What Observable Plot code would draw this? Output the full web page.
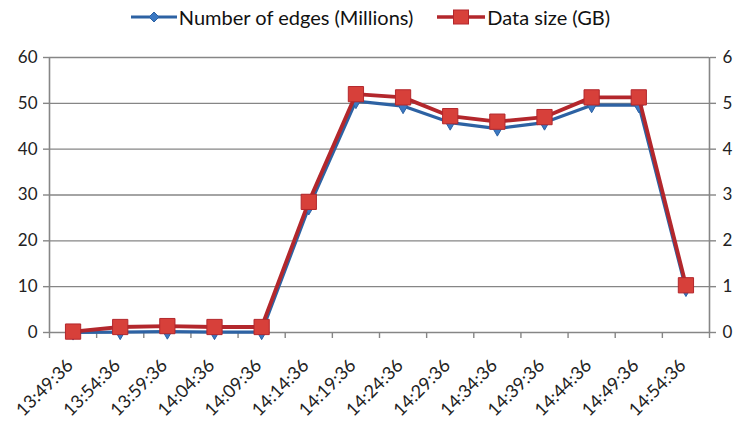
<!DOCTYPE html>
<html>
<head>
<meta charset="utf-8">
<script src="https://cdn.jsdelivr.net/npm/d3@7"></script>
<script src="https://cdn.jsdelivr.net/npm/@observablehq/plot@0.6"></script>
<style>
  html, body { margin: 0; padding: 0; background: #fff; }
  body { width: 739px; height: 430px; overflow: hidden; font-family: Lato, "Open Sans", sans-serif; }
  #legend { height: 34px; display: flex; justify-content: center; align-items: center; gap: 24px; font-size: 20px; color: #111; padding-left: 2px; box-sizing: border-box; }
  #legend .item { display: flex; align-items: center; gap: 2px; }
</style>
</head>
<body>
<div id="legend"></div>
<div id="chart"></div>
<script>
const times = ["13:49:36","13:54:36","13:59:36","14:04:36","14:09:36","14:14:36","14:19:36","14:24:36","14:29:36","14:34:36","14:39:36","14:44:36","14:49:36","14:54:36"];
const edgesMillions = [0, 0.1, 0.2, 0.1, 0.1, 27.3, 50.5, 49.4, 45.8, 44.5, 45.8, 49.6, 49.6, 9.5];
const dataSizeGB = [0.02, 0.12, 0.14, 0.12, 0.12, 2.85, 5.2, 5.13, 4.72, 4.6, 4.7, 5.13, 5.13, 1.03];
const leftTicks = [0, 10, 20, 30, 40, 50, 60];
const rightTicks = [0, 1, 2, 3, 4, 5, 6];
const seriesNames = ["Number of edges (Millions)", "Data size (GB)"];

const blueLine = "#2d62a3", blueFill = "#3b78c2";
const redLine = "#b3272c", redFill = "#d7403a";
const gridColor = "#868686";

const rows = times.map((t, i) => ({i, t, edges: edgesMillions[i], size: dataSizeGB[i]}));
const between = d3.range(times.length + 1).map(k => k - 0.5);

// legend
const legend = document.getElementById("legend");
legend.innerHTML = `
  <div class="item"><svg width="46" height="14"><line x1="0" y1="7" x2="46" y2="7" stroke="${blueLine}" stroke-width="3"/><path d="M23 2 L28 7 L23 12 L18 7 Z" fill="${blueFill}" stroke="${blueLine}"/></svg><span>${seriesNames[0]}</span></div>
  <div class="item"><svg width="48" height="18"><line x1="0" y1="9" x2="48" y2="9" stroke="${redLine}" stroke-width="3.5"/><rect x="16.5" y="2" width="15" height="14" fill="${redFill}" stroke="${redLine}"/></svg><span>${seriesNames[1]}</span></div>`;

const chart = Plot.plot({
  width: 739,
  height: 396,
  marginLeft: 49,
  marginRight: 30,
  marginTop: 23,
  marginBottom: 98,
  style: {fontFamily: "Lato, 'Open Sans', sans-serif", fontSize: "17px", color: "#222", background: "#fff"},
  x: {type: "linear", domain: [-0.5, times.length - 0.5]},
  y: {domain: [0, 60]},
  marks: [
    Plot.ruleY(leftTicks, {stroke: gridColor, strokeWidth: 1.4}),
    Plot.ruleX([-0.5, times.length - 0.5], {stroke: gridColor, strokeWidth: 1.6}),
    Plot.axisY({anchor: "left", ticks: leftTicks, tickSize: 6, tickPadding: 6, stroke: gridColor, strokeWidth: 1.4, label: null, fontSize: 17}),
    Plot.axisY({anchor: "right", ticks: leftTicks, tickFormat: d => String(rightTicks[d / 10]), tickSize: 6, tickPadding: 7, stroke: gridColor, strokeWidth: 1.4, label: null, fontSize: 17}),
    Plot.axisX({ticks: between, tickFormat: () => "", tickSize: 6, stroke: gridColor, strokeWidth: 1.4, label: null}),
    Plot.axisX({ticks: d3.range(times.length), tickFormat: i => times[i], tickSize: 0, tickPadding: 30, tickRotate: -45, label: null, fontSize: 18, dx: -3}),
    Plot.line(rows, {x: "i", y: "edges", stroke: blueLine, strokeWidth: 3.2}),
    Plot.dot(rows, {x: "i", y: "edges", symbol: "diamond", r: 4.6, fill: blueFill, stroke: blueLine, strokeWidth: 1}),
    Plot.line(rows, {x: "i", y: d => d.size * 10, stroke: redLine, strokeWidth: 3.8}),
    Plot.dot(rows, {x: "i", y: d => d.size * 10, symbol: "square", r: 8.6, fill: redFill, stroke: redLine, strokeWidth: 1})
  ]
});
document.getElementById("chart").appendChild(chart);
</script>
</body>
</html>
